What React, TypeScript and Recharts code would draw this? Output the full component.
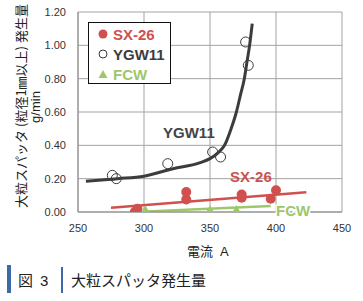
import React from "react";
import {
  ComposedChart,
  Line,
  Scatter,
  XAxis,
  YAxis,
  CartesianGrid,
  ReferenceDot,
} from "recharts";

// measured points
const sxCurrent = [293, 295, 332, 332, 374, 374, 396, 400];
const sxAmount = [0.0, 0.02, 0.12, 0.075, 0.105, 0.085, 0.08, 0.13];
const ygwCurrent = [276, 279, 318, 352, 358, 377, 379];
const ygwAmount = [0.22, 0.2, 0.29, 0.36, 0.33, 1.02, 0.88];
const fcwCurrent = [301, 350, 370];
const fcwAmount = [0.01, 0.01, 0.01];

// trend lines
const sxTrendX = [275, 423];
const sxTrendY = [0.026, 0.118];
const fcwTrendX = [298, 396];
const fcwTrendY = [0.002, 0.036];
const ygwTrendX = [256, 280, 300, 322, 342, 350, 356, 361, 366, 370, 373, 376, 378, 380, 382];
const ygwTrendY = [0.185, 0.2, 0.215, 0.26, 0.295, 0.32, 0.355, 0.4, 0.5, 0.6, 0.7, 0.8, 0.9, 1.0, 1.13];

const xTicks = [250, 300, 350, 400, 450];
const yTicks = [0, 0.2, 0.4, 0.6, 0.8, 1.0, 1.2];

const RED = "#d0504e";
const DARK = "#3c3c3c";
const GREEN = "#9cc86a";
const BLUE = "#3d6aa6";
const LATIN = "'Liberation Sans', Arial, sans-serif";
const JP = "'Noto Sans CJK JP', sans-serif";

const zip = (xs: number[], ys: number[]) => xs.map((x, i) => ({ x, y: ys[i] }));

const sxData = zip(sxCurrent, sxAmount);
const ygwData = zip(ygwCurrent, ygwAmount);
const fcwData = zip(fcwCurrent, fcwAmount);

const Triangle = (props: any) => {
  const { cx, cy } = props;
  return <polygon points={`${cx - 5},${cy + 3.5} ${cx + 5},${cy + 3.5} ${cx},${cy - 5}`} fill={GREEN} />;
};

const legendItems = [
  { name: "SX-26", color: RED, mark: "dot" },
  { name: "YGW11", color: DARK, mark: "ring" },
  { name: "FCW", color: GREEN, mark: "tri" },
];

const App = () => {
  return (
    <div style={{ position: "absolute", left: 0, top: 0, width: 363, height: 301, background: "#fff" }}>
      <ComposedChart width={363} height={301} margin={{ top: 12, right: 21, bottom: 59, left: 38 }}>
        <CartesianGrid stroke="#a3a3a3" strokeWidth={1} />
        <XAxis
          type="number"
          dataKey="x"
          domain={[250, 450]}
          ticks={xTicks}
          tickLine={false}
          axisLine={{ stroke: "#8a8a8a" }}
          tick={{ fontSize: 11, fill: "#333", fontFamily: LATIN }}
          tickMargin={6}
          height={30}
          allowDataOverflow
        />
        <YAxis
          type="number"
          dataKey="y"
          domain={[0, 1.2]}
          ticks={yTicks}
          tickFormatter={(v: number) => v.toFixed(2)}
          tickLine={false}
          axisLine={{ stroke: "#8a8a8a" }}
          tick={{ fontSize: 11, fill: "#333", fontFamily: LATIN }}
          tickMargin={6}
          width={40}
          allowDataOverflow
        />
        <Line data={zip(ygwTrendX, ygwTrendY)} dataKey="y" type="monotone" stroke={DARK} strokeWidth={3} dot={false} isAnimationActive={false} />
        <Line data={zip(sxTrendX, sxTrendY)} dataKey="y" type="linear" stroke={RED} strokeWidth={2.5} dot={false} isAnimationActive={false} />
        <Line data={zip(fcwTrendX, fcwTrendY)} dataKey="y" type="linear" stroke={GREEN} strokeWidth={2.5} dot={false} isAnimationActive={false} />
        <Scatter data={ygwData} isAnimationActive={false}
          shape={(p: any) => <circle cx={p.cx} cy={p.cy} r={5} fill="none" stroke={DARK} strokeWidth={1} />} />
        <Scatter data={sxData} isAnimationActive={false}
          shape={(p: any) => <circle cx={p.cx} cy={p.cy} r={5} fill={RED} />} />
        <Scatter data={fcwData} isAnimationActive={false} shape={Triangle} />
        <ReferenceDot x={334} y={0.474} r={0} ifOverflow="visible"
          label={{ value: "YGW11", position: "center", fill: "#444", fontSize: 15, fontWeight: 700, fontFamily: LATIN }} />
        <ReferenceDot x={381} y={0.21} r={0} ifOverflow="visible"
          label={{ value: "SX-26", position: "center", fill: RED, fontSize: 15, fontWeight: 700, fontFamily: LATIN }} />
        <ReferenceDot x={413} y={0.006} r={0} ifOverflow="visible"
          label={{ value: "FCW", position: "center", fill: GREEN, fontSize: 15, fontWeight: 700, fontFamily: LATIN, stroke: "#fff", strokeWidth: 3, paintOrder: "stroke" }} />
      </ComposedChart>

      {/* legend box */}
      <div style={{ position: "absolute", left: 88, top: 22, width: 81, height: 60, border: "1.5px solid #111", background: "#fff", fontFamily: LATIN, fontWeight: 700, fontSize: 15 }}>
        {legendItems.map((it, i) => (
          <div key={it.name} style={{ position: "absolute", left: 8, top: 1 + i * 20, height: 20, display: "flex", alignItems: "center", color: it.color }}>
            <svg width={12} height={12} style={{ marginRight: 4 }}>
              {it.mark === "dot" && <circle cx={6} cy={6} r={4.5} fill={it.color} />}
              {it.mark === "ring" && <circle cx={6} cy={6} r={4} fill="none" stroke={it.color} strokeWidth={1} />}
              {it.mark === "tri" && <polygon points="1.5,10 10.5,10 6,2" fill={it.color} />}
            </svg>
            <span>{it.name}</span>
          </div>
        ))}
      </div>

      {/* y axis title */}
      <div style={{ position: "absolute", left: 20, top: 106, transform: "translate(-50%, -50%) rotate(-90deg)", whiteSpace: "nowrap", fontFamily: JP, fontSize: 13, color: "#222", textAlign: "center", lineHeight: "15px" }}>
        大粒スパッタ (粒径1㎜以上) 発生量
      </div>
      <div style={{ position: "absolute", left: 35, top: 107, transform: "translate(-50%, -50%) rotate(-90deg)", whiteSpace: "nowrap", fontFamily: LATIN, fontSize: 13, color: "#222" }}>
        g/min
      </div>

      {/* x axis title */}
      <div style={{ position: "absolute", left: 187, top: 241, whiteSpace: "nowrap", fontFamily: JP, fontSize: 13, color: "#222" }}>
        電流 <span style={{ fontFamily: LATIN, marginLeft: 4 }}>A</span>
      </div>

      {/* caption */}
      <div style={{ position: "absolute", left: 7, top: 265, width: 4, height: 28, background: BLUE }} />
      <div style={{ position: "absolute", left: 18, top: 270, fontFamily: JP, fontSize: 15, lineHeight: "20px", color: "#222", whiteSpace: "nowrap" }}>
        図<span style={{ marginLeft: 7, fontFamily: LATIN }}>3</span>
      </div>
      <div style={{ position: "absolute", left: 61, top: 267, width: 2, height: 26, background: BLUE }} />
      <div style={{ position: "absolute", left: 71, top: 270, fontFamily: JP, fontSize: 15, lineHeight: "20px", color: "#222", whiteSpace: "nowrap" }}>
        大粒スパッタ発生量
      </div>
    </div>
  );
};

export default App;
